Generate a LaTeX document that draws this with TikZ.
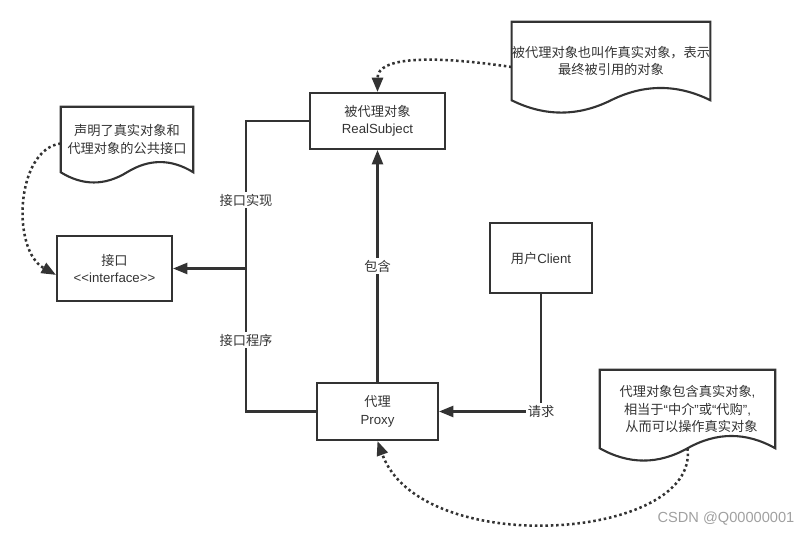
\documentclass[tikz,border=0pt]{standalone}
\usepackage{fontspec}
\setmainfont{Liberation Sans}
\newfontfamily\cjk{Noto Sans CJK SC}
\usetikzlibrary{arrows.meta,calc}
\definecolor{ink}{HTML}{333333}
\definecolor{wmgray}{HTML}{A0A0A0}

\newcommand{\docshape}[2]{%
  \draw[draw=ink, line width=1.5pt] (#1.south west) -- (#1.north west) -- (#1.north east) -- (#1.south east)
    .. controls ($(#1.south west)!0.8333!(#1.south east)+(0,#2)$) and ($(#1.south west)!0.6667!(#1.south east)+(0,#2)$) .. (#1.south)
    .. controls ($(#1.south west)!0.3333!(#1.south east)-(0,#2)$) and ($(#1.south west)!0.1667!(#1.south east)-(0,#2)$) .. (#1.south west) -- cycle;}

\begin{document}
\begin{tikzpicture}[
    box/.style={draw=ink, line width=1.5pt, align=center, inner sep=0pt, text=ink},
    note/.style={align=center, inner sep=0pt, text=ink},
    lbl/.style={fill=white, inner sep=1.5pt, text=ink},
    link/.style={draw=ink, line width=1.5pt},
    tip/.style={-{Triangle[length=3.6mm,width=2.8mm]}},
    dots/.style={draw=ink, line width=1.8pt, dash pattern=on 1.8pt off 2pt}]
  \fontsize{9.4}{12.3}\selectfont
  \useasboundingbox (0,0) rectangle (20.25,13.425);

  \node[box, minimum width=3.375cm, minimum height=1.4cm] (realSubject) at (9.4375,10.4)
    {{\cjk 被代理对象}\\RealSubject};

  \node[box, minimum width=2.875cm, minimum height=1.625cm] (iface) at (2.8625,6.7125)
    {{\cjk 接口}\\<\kern0pt<interface>\kern0pt>};

  \node[box, minimum width=3.025cm, minimum height=1.425cm] (proxy) at (9.4375,3.1375)
    {{\cjk 代理}\\Proxy};

  \node[box, minimum width=2.55cm, minimum height=1.75cm] (client) at (13.525,6.975)
    {{\cjk 用户}Client};

  \node[note, minimum width=3.3cm, minimum height=1.625cm] (note1) at (3.175,9.9375)
    {{\cjk 声明了真实对象和}\\{\cjk 代理对象的公共接口}};
  \docshape{note1}{0.34}

  \node[note, minimum width=4.95cm, minimum height=1.95cm] (note2) at (15.275,11.9)
    {{\cjk 被代理对象也叫作真实对象，表示}\\{\cjk 最终被引用的对象}};
  \docshape{note2}{0.41}

  \node[note, minimum width=4.375cm, minimum height=1.95cm] (note3) at (17.1875,3.2)
    {{\cjk 代理对象包含真实对象},\\
     {\cjk 相当于}“{\cjk 中介}”{\cjk 或}“{\cjk 代购}”,\\
     \hspace*{0.6em}{\cjk 从而可以操作真实对象}};
  \docshape{note3}{0.41}

  \coordinate (split) at (6.15,6.7125);
  \coordinate (reqCorner) at (client.south |- proxy.east);

  \draw[link] (realSubject.west) -| (split) |- (proxy.west);
  \draw[link, tip] (split) -- (iface.east);
  \node[lbl] (implLabel) at (6.15,8.425) {{\cjk 接口实现}};
  \node[lbl] (progLabel) at (6.15,4.925) {{\cjk 接口程序}};

  \draw[link, tip] (proxy.north) -- node[lbl] (containLabel) {{\cjk 包含}} (realSubject.south);

  \draw[link] (client.south) -- (reqCorner);
  \draw[link, tip] (reqCorner) -- (proxy.east);
  \node[lbl] (reqLabel) at (reqCorner) {{\cjk 请求}};

  \draw[dots, tip] ([yshift=-0.1cm]note1.west) .. controls +(-1.125,-0.15) and +(-1.125,0.625) .. ([yshift=-0.16cm]iface.west);
  \draw[dots, tip] ([yshift=-0.15cm]note2.west) .. controls +(-2.05,0.3) and +(0,0.875) .. (realSubject.north);
  \draw[dots, tip] (note3.south) .. controls +(0.3,-2.3) and +(1.075,-2.975) .. (proxy.south);

  \node[text=wmgray, font=\fontsize{10.4}{12}\selectfont] (csdn) at (18.15,0.45) {CSDN @Q00000001};
\end{tikzpicture}
\end{document}
